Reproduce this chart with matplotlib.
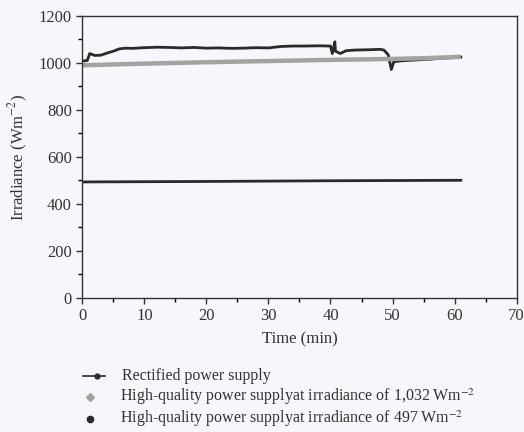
import matplotlib
matplotlib.use('Agg')
import matplotlib.pyplot as plt
from matplotlib.lines import Line2D
from matplotlib.ticker import MultipleLocator

# Estilo geral
plt.rcParams['font.family'] = ['Liberation Serif', 'DejaVu Serif']
plt.rcParams['mathtext.fontset'] = 'stix'

# --------> Dados
# Fonte retificada (linha preta superior)
rect_t = [0, 0.8, 1.2, 2, 3, 4, 5, 6, 7, 8, 10, 12, 14, 16, 18, 20, 22, 24, 26, 28,
          30, 32, 34, 36, 38, 40, 40.3, 40.7, 40.8, 41.2, 41.6, 42.5, 44, 46, 48,
          48.6, 49.3, 49.8, 50.2, 51, 52, 54, 56, 58, 60, 61]
rect_irr = [1008, 1010, 1040, 1032, 1033, 1042, 1050, 1060, 1063, 1062, 1065, 1067,
            1066, 1064, 1066, 1063, 1064, 1062, 1063, 1065, 1064, 1070, 1072, 1072,
            1073, 1072, 1040, 1090, 1050, 1045, 1040, 1052, 1055, 1056, 1058, 1055,
            1035, 972, 1005, 1008, 1010, 1013, 1016, 1020, 1023, 1025]

# Fonte de alta qualidade a 1032 W/m2 (cinza)
hq_high_t = [0, 10, 20, 30, 40, 50, 55, 61]
hq_high_irr = [990, 997, 1003, 1008, 1013, 1017, 1020, 1026]

# Fonte de alta qualidade a 497 W/m2 (preta inferior)
hq_low_t = [0, 20, 40, 61]
hq_low_irr = [493, 495, 498, 500]

labels = ['Rectified power supply',
          'High-quality power supplyat irradiance of 1,032\u2009Wm$^{-2}$',
          'High-quality power supplyat irradiance of 497\u2009Wm$^{-2}$']

fs = 12
fs_leg = 11.5
bg = '#f5f7fb'
dark = '#2a2a2a'
grey = '#a3a3a3'
fig = plt.figure(figsize=(5.24, 4.32), dpi=100, facecolor=bg)
ax = fig.add_axes([0.157, 0.311, 0.829, 0.652], facecolor=bg)

ax.plot(hq_low_t, hq_low_irr, color=dark, lw=2.0)
ax.plot(rect_t, rect_irr, color=dark, lw=2.0)
ax.plot(hq_high_t, hq_high_irr, color=grey, lw=3.2, solid_capstyle='butt')

ax.set_xlim(0, 70)
ax.set_ylim(0, 1200)
ax.xaxis.set_major_locator(MultipleLocator(10))
ax.xaxis.set_minor_locator(MultipleLocator(5))
ax.yaxis.set_major_locator(MultipleLocator(200))
ax.yaxis.set_minor_locator(MultipleLocator(100))
ax.tick_params(which='major', length=4, width=1, labelsize=fs, colors='#333333')
ax.tick_params(which='minor', length=3, width=1)
for s in ax.spines.values():
    s.set_color('#333333')
    s.set_linewidth(1)

ax.set_xlabel('Time (min)', fontsize=fs, color='#333333', labelpad=5)
ax.set_ylabel('Irradiance (Wm$^{-2}$)', fontsize=fs, color='#333333', labelpad=6)

# Legenda abaixo do gráfico (montada à mão, em coordenadas da figura)
W, H = 524, 432
rows = [376, 397, 419]
fig.add_artist(Line2D([83 / W, 105 / W], [1 - rows[0] / H] * 2, color=dark, lw=1.2,
                      transform=fig.transFigure))
fig.add_artist(Line2D([97 / W], [1 - rows[0] / H], color=dark, marker='o', ms=3.5,
                      transform=fig.transFigure))
fig.add_artist(Line2D([90 / W], [1 - rows[1] / H], color=grey, marker='D', ms=4, lw=0,
                      transform=fig.transFigure))
fig.add_artist(Line2D([90 / W], [1 - rows[2] / H], color=dark, marker='o', ms=4.5, lw=0,
                      transform=fig.transFigure))
fig.text(122 / W, 1 - rows[0] / H, labels[0], fontsize=fs_leg, color='#333333', va='center')
fig.text(120 / W, 1 - rows[1] / H, labels[1], fontsize=fs_leg, color='#333333', va='center')
fig.text(120 / W, 1 - rows[2] / H, labels[2], fontsize=fs_leg, color='#333333', va='center')

plt.savefig('out.png', dpi=100, facecolor=bg)
